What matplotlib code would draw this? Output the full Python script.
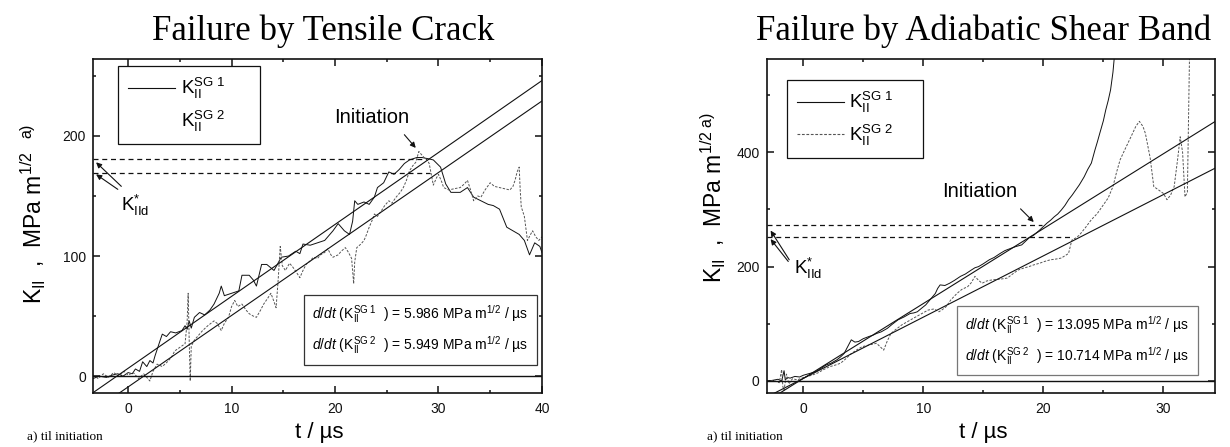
import matplotlib
matplotlib.use('Agg')
import matplotlib.pyplot as plt
import matplotlib.ticker as mticker
from matplotlib.lines import Line2D
import numpy as np

plt.rcParams['font.family'] = ['Liberation Sans', 'DejaVu Sans']
plt.rcParams['mathtext.fontset'] = 'custom'
plt.rcParams['mathtext.rm'] = 'Liberation Sans'
plt.rcParams['mathtext.it'] = 'Liberation Sans:italic'
plt.rcParams['mathtext.bf'] = 'Liberation Sans:bold'
plt.rcParams['mathtext.sf'] = 'Liberation Sans'

STYLE = {
    'ink':   '#111111',
    'sg2':   '#555555',
    'box2':  '#777777',
    'serif': 'Liberation Serif',
}

# ---- left panel: tensile crack (t in us, K_II in MPa m^1/2) ----
left_sg1 = [
    (-3.4, -2), (-2.8, 0), (-2.1, -1), (-1.5, 1), (-1.0, 2), (-0.5, 0), (0, 3),
    (0.4, 2), (0.7, 6), (1.1, 4), (1.4, 12), (1.8, 8), (2.1, 13), (2.4, 11),
    (2.6, 17), (3.1, 30), (3.3, 35), (3.7, 33), (4.1, 37), (4.6, 36), (5.2, 38),
    (5.5, 42), (5.7, 39), (5.9, 46), (6.1, 40), (6.4, 49), (6.9, 53), (7.4, 51),
    (7.9, 55), (8.3, 60), (8.8, 69), (9.0, 75), (9.3, 67), (10.0, 69), (10.7, 71),
    (11.0, 84), (11.7, 84), (12.1, 80), (12.4, 75), (12.9, 93), (13.4, 93),
    (14.1, 88), (14.8, 99), (15.5, 100), (16.2, 104), (16.6, 102), (16.9, 110),
    (17.6, 109), (18.3, 111), (19.0, 113), (19.8, 121), (20.3, 127), (20.9, 121),
    (21.4, 118), (21.7, 129), (21.9, 146), (22.2, 143), (22.8, 145), (23.3, 143),
    (23.8, 149), (24.1, 157), (24.7, 161), (25.2, 170), (25.7, 168), (26.2, 172),
    (26.7, 177), (27.2, 180), (27.9, 182), (28.4, 182), (29.0, 181), (29.5, 180),
    (30.2, 174), (30.7, 160), (31.2, 153), (32.1, 153), (32.8, 157), (33.4, 149),
    (34.1, 146), (34.8, 143), (35.3, 142), (35.9, 139), (36.6, 124), (37.2, 121),
    (37.8, 118), (38.3, 113), (38.8, 101), (39.3, 111), (39.8, 108), (40.0, 103),
]
left_sg2 = [
    (-3.4, 1), (-2.9, -2), (-2.4, 2), (-1.9, -1), (-1.4, 3), (-0.9, 0), (-0.4, 4),
    (0, 1), (0.5, 3), (1.0, -2), (1.5, 2), (2.1, -4), (2.4, 4), (2.8, 10),
    (3.3, 8), (3.8, 12), (4.2, 16), (4.5, 21), (5.0, 24), (5.5, 27), (5.7, 45),
    (5.8, 69), (5.9, 30), (6.0, -4), (6.1, 25), (6.4, 30), (6.8, 34), (7.2, 38),
    (7.7, 42), (8.3, 46), (8.6, 44), (9.0, 38), (9.3, 44), (9.7, 49), (10.0, 58),
    (10.3, 63), (10.6, 58), (11.0, 60), (11.4, 55), (11.7, 52), (12.1, 50),
    (12.4, 49), (12.8, 55), (13.1, 60), (13.5, 65), (13.8, 69), (14.1, 62),
    (14.3, 57), (14.5, 80), (14.7, 108), (14.9, 92), (15.2, 88), (15.6, 94),
    (15.9, 91), (16.3, 86), (16.6, 82), (16.9, 88), (17.2, 93), (17.6, 96),
    (17.9, 99), (18.3, 98), (18.6, 101), (19.0, 103), (19.3, 106), (19.6, 101),
    (19.8, 99), (20.3, 101), (20.6, 104), (21.0, 107), (21.3, 103), (21.6, 98),
    (21.8, 77), (21.9, 95), (22.1, 107), (22.5, 110), (22.8, 113), (23.0, 117),
    (23.3, 124), (23.6, 130), (23.8, 135), (24.1, 133), (24.5, 138), (24.8, 142),
    (25.2, 146), (25.5, 144), (25.9, 149), (26.3, 153), (26.6, 157), (26.9, 163),
    (27.2, 171), (27.5, 175), (27.8, 178), (28.1, 187), (28.4, 184), (28.6, 182),
    (28.9, 180), (29.1, 177), (29.3, 168), (29.5, 159), (29.8, 165), (30.0, 168),
    (30.3, 162), (30.5, 157), (31.0, 155), (31.5, 156), (32.1, 157), (32.5, 160),
    (32.8, 163), (33.1, 155), (33.4, 146), (33.8, 150), (34.1, 149), (34.5, 155),
    (35.0, 161), (35.4, 158), (35.9, 157), (36.4, 156), (36.9, 155), (37.2, 158),
    (37.4, 163), (37.6, 170), (37.8, 174), (37.9, 155), (38.0, 141), (38.3, 133),
    (38.6, 113), (38.9, 118), (39.1, 121), (39.4, 116), (39.7, 113), (40.0, 116),
]
left_slopes  = [5.986, 5.949]      # fitted dK/dt
left_x0      = [-1.1, 1.5]         # where each fit crosses K = 0
left_kd      = [181, 169]          # K*_IId levels
left_kd_end  = [28.8, 29.2]        # t where dashed level lines stop
left_rates   = ['5.986', '5.949']

# ---- right panel: adiabatic shear band ----
right_sg1 = [
    (-3.05, 0), (-2.6, 1), (-2.1, 3), (-1.8, 0), (-1.6, 18), (-1.5, 2), (-1.3, 6),
    (-1.1, 5), (-0.7, 8), (-0.3, 7), (0, 10), (0.5, 13), (1.0, 16), (1.4, 21),
    (1.9, 28), (2.3, 31), (2.8, 37), (3.1, 42), (3.4, 48), (3.7, 60), (4.0, 72),
    (4.3, 68), (4.6, 69), (5.0, 74), (5.5, 78), (5.8, 80), (6.1, 83), (6.5, 86),
    (7.0, 92), (7.4, 99), (7.9, 107), (8.4, 112), (8.9, 118), (9.2, 119),
    (9.5, 121), (9.9, 128), (10.2, 133), (10.6, 143), (11.0, 153), (11.2, 162),
    (11.4, 168), (11.8, 167), (12.2, 171), (12.6, 176), (13.1, 183), (13.5, 187),
    (14.0, 194), (14.3, 198), (14.6, 200), (15.0, 205), (15.5, 212), (15.9, 216),
    (16.4, 223), (16.8, 228), (17.3, 232), (17.7, 235), (18.2, 238), (18.5, 244),
    (18.8, 250), (19.2, 255), (19.7, 264), (20.0, 270), (20.3, 276), (20.6, 281),
    (20.9, 287), (21.2, 292), (21.5, 299), (21.8, 307), (22.1, 317), (22.4, 325),
    (22.7, 334), (23.0, 343), (23.4, 357), (23.7, 370), (24.0, 381), (24.3, 404),
    (24.5, 418), (24.7, 433), (25.0, 455), (25.2, 474), (25.4, 490), (25.6, 509),
    (25.8, 540), (25.9, 563), (26.1, 600),
]
right_sg2 = [
    (-3.05, -1), (-2.5, 1), (-2.0, -3), (-1.8, 20), (-1.7, -10), (-1.6, -16),
    (-1.4, 12), (-1.2, -5), (-0.9, 4), (-0.5, 2), (0, 6), (0.7, 10), (1.2, 14),
    (1.7, 20), (2.2, 25), (2.7, 28), (3.1, 31), (3.5, 38), (4.0, 48), (4.5, 55),
    (4.9, 60), (5.5, 63), (6.1, 66), (6.4, 60), (6.7, 54), (7.0, 70), (7.3, 83),
    (7.7, 90), (8.2, 98), (8.7, 104), (9.2, 110), (9.8, 117), (10.4, 124),
    (10.9, 126), (11.3, 121), (11.6, 125), (11.9, 130), (12.3, 142), (12.8, 153),
    (13.2, 160), (13.7, 165), (14.0, 172), (14.3, 183), (14.6, 176), (14.9, 171),
    (15.3, 175), (15.8, 177), (16.4, 178), (17.0, 180), (17.5, 188), (17.9, 194),
    (18.3, 197), (18.8, 200), (19.2, 203), (19.7, 206), (20.1, 209), (20.6, 212),
    (21.0, 213), (21.5, 215), (21.8, 219), (22.1, 223), (22.3, 240), (22.4, 247),
    (22.7, 250), (23.0, 255), (23.5, 268), (24.0, 282), (24.5, 293), (24.9, 305),
    (25.4, 320), (25.8, 340), (26.1, 365), (26.4, 387), (26.8, 405), (27.3, 427),
    (27.7, 445), (28.0, 454), (28.3, 445), (28.5, 433), (28.9, 390), (29.2, 340),
    (29.6, 334), (30.0, 328), (30.3, 317), (30.6, 325), (30.9, 340), (31.2, 390),
    (31.4, 427), (31.6, 400), (31.8, 322), (32.0, 330), (32.2, 600),
]
right_slopes = [13.095, 10.714]
right_x0     = [-0.34, -0.42]
right_kd     = [273, 252]
right_kd_end = [19.9, 22.4]
right_rates  = ['13.095', '10.714']


def _rate_line(sg, rate):
    return (r'$\mathit{d/dt}$ ($\mathrm{K_{II}^{SG\ %d}}$  ) = %s MPa m$^{1/2}$ / µs'
            % (sg, rate))


def _style_axes(ax, xlim, ylim, ymajor):
    ax.set_xlim(*xlim)
    ax.set_ylim(*ylim)
    ax.xaxis.set_major_locator(mticker.MultipleLocator(10))
    ax.xaxis.set_minor_locator(mticker.MultipleLocator(5))
    ax.yaxis.set_major_locator(mticker.MultipleLocator(ymajor))
    ax.yaxis.set_minor_locator(mticker.MultipleLocator(ymajor / 2))
    ax.tick_params(which='both', direction='in', top=True, right=True,
                   labelsize=10, width=1.1, colors=STYLE['ink'])
    ax.tick_params(which='major', length=5)
    ax.tick_params(which='minor', length=2.5)
    ax.tick_params(axis='x', pad=6.3)
    ax.tick_params(axis='y', pad=5)
    for sp in ax.spines.values():
        sp.set_linewidth(1.2)
        sp.set_edgecolor(STYLE['ink'])


def draw_panel(ax, sg1, sg2, slopes, x0s, kd, kd_end, xlim, ylim, ymajor):
    _style_axes(ax, xlim, ylim, ymajor)
    t1, k1 = np.array(sg1).T
    t2, k2 = np.array(sg2).T
    ax.plot(t1, k1, color=STYLE['ink'], lw=0.7)
    ax.plot(t2, k2, color=STYLE['sg2'], lw=0.7, dashes=(2.5, 1.5))

    tt = np.array(xlim)
    for s, x0 in zip(slopes, x0s):
        ax.plot(tt, s * (tt - x0), color=STYLE['ink'], lw=0.8)

    ax.axhline(0, color=STYLE['ink'], lw=1.0)
    for level, end in zip(kd, kd_end):
        ax.plot([xlim[0], end], [level, level], color=STYLE['ink'],
                lw=0.9, dashes=(4, 3))


fig = plt.figure(figsize=(12.3, 4.47), dpi=100)
fig.patch.set_facecolor('white')

ax1 = fig.add_axes([0.0756, 0.1208, 0.3650, 0.7472])
ax2 = fig.add_axes([0.6233, 0.1208, 0.3645, 0.7472])

draw_panel(ax1, left_sg1, left_sg2, left_slopes, left_x0, left_kd,
           left_kd_end, (-3.4, 40), (-14, 264), 100)
draw_panel(ax2, right_sg1, right_sg2, right_slopes, right_x0, right_kd,
           right_kd_end, (-3.05, 34.3), (-21, 563), 200)

# legends (left one shows no sample for SG 2, as in the source figure)
labels = [r'$\mathrm{K_{II}^{SG\ 1}}$', r'$\mathrm{K_{II}^{SG\ 2}}$']
solid = Line2D([], [], color=STYLE['ink'], lw=0.8)
second = [Line2D([], [], linestyle='none'),
          Line2D([], [], color=STYLE['sg2'], lw=0.8, dashes=(2.5, 1.5))]
for ax, h2, bb in [(ax1, second[0], (0.0557, 0.5, 0.317, 0.479)),
                   (ax2, second[1], (0.0446, 0.5, 0.305, 0.437))]:
    leg = ax.legend([solid, h2], labels, loc='upper left', bbox_to_anchor=bb,
                    mode='expand', borderaxespad=0, fontsize=13.5,
                    handlelength=2.5, handletextpad=0.3, labelspacing=0.4,
                    borderpad=0.55, fancybox=False, framealpha=1,
                    edgecolor=STYLE['ink'])
    leg.get_frame().set_linewidth(0.9)

# rate boxes
for ax, rates, xy, ec in [(ax1, left_rates, (0.729, 0.189), '#333333'),
                          (ax2, right_rates, (0.693, 0.157), STYLE['box2'])]:
    ax.text(*xy, _rate_line(1, rates[0]) + '\n' + _rate_line(2, rates[1]),
            transform=ax.transAxes, ha='center', va='center',
            multialignment='left', fontsize=10, linespacing=1.6,
            bbox=dict(boxstyle='square,pad=0.6', fc='white', ec=ec, lw=0.9))

# initiation and K*_IId annotations
arrow = dict(arrowstyle='-|>', color=STYLE['ink'], lw=0.8, mutation_scale=8,
             shrinkA=0, shrinkB=0)
ax1.text(23.5, 215, 'Initiation', ha='center', va='center', fontsize=14.5)
ax1.annotate('', xy=(27.8, 190), xytext=(26.7, 201), arrowprops=arrow)
ax2.text(14.7, 331, 'Initiation', ha='center', va='center', fontsize=14.5)
ax2.annotate('', xy=(19.2, 278), xytext=(18.1, 301), arrowprops=arrow)

kd_label = r'$\mathrm{K^{*}_{IId}}$'
ax1.text(-0.7, 142, kd_label, ha='left', va='center', fontsize=13.5)
for tip, tail in [((-3.1, 178), (-0.66, 158)), ((-3.1, 168), (-1.0, 155.5))]:
    ax1.annotate('', xy=tip, xytext=tail, arrowprops=arrow)
ax2.text(-0.75, 196, kd_label, ha='left', va='center', fontsize=13.5)
for tip, tail in [((-2.72, 263), (-1.17, 212)), ((-2.72, 248), (-1.25, 209))]:
    ax2.annotate('', xy=tip, xytext=tail, arrowprops=arrow)

# axis labels
ax1.set_ylabel(r'$\mathrm{K_{II}}$  ,  MPa m$^{1/2}$  $^{\mathrm{a)}}$', fontsize=16.5)
ax1.yaxis.set_label_coords(-0.1, 0.537)
ax2.set_ylabel(r'$\mathrm{K_{II}}$  ,  MPa m$^{1/2\ \mathrm{a)}}$', fontsize=16.5)
ax2.yaxis.set_label_coords(-0.086, 0.585)
for ax, cx in [(ax1, 0.505), (ax2, 0.484)]:
    ax.set_xlabel('t / µs', fontsize=16)
    ax.xaxis.set_label_coords(cx, -0.088)

# titles and footnotes
fig.text(323.5 / 1230, 1 - 40 / 447, 'Failure by Tensile Crack', ha='center',
         va='baseline', family=STYLE['serif'], fontsize=25)
fig.text(983.5 / 1230, 1 - 40 / 447, 'Failure by Adiabatic Shear Band',
         ha='center', va='baseline', family=STYLE['serif'], fontsize=25)
for x in [27 / 1230, 707 / 1230]:
    fig.text(x, 1 - 439 / 447, 'a) til initiation', ha='left', va='baseline',
             family=STYLE['serif'], fontsize=9.5)

fig.savefig('out.png', dpi=100)
